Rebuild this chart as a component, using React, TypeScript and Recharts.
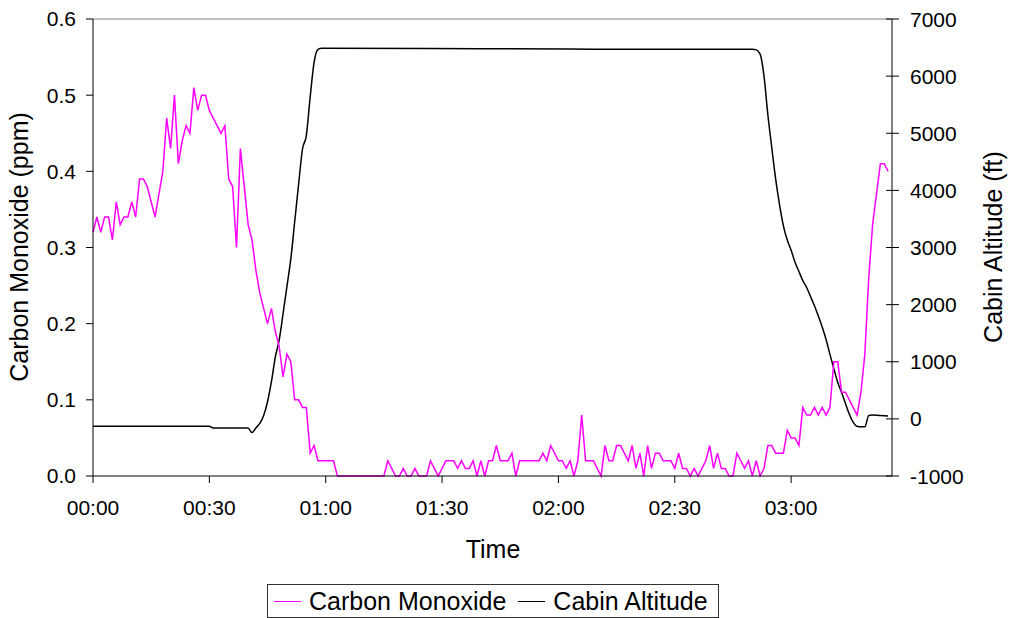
import React from "react";
import { LineChart, Line, XAxis, YAxis, ReferenceLine } from "recharts";

// carbon monoxide, one reading per minute from 00:00 (ppm)
const coPpm = [
  0.32, 0.34, 0.32, 0.34, 0.34, 0.31, 0.36, 0.33, 0.34, 0.34,
  0.36, 0.34, 0.39, 0.39, 0.38, 0.36, 0.34, 0.37, 0.40, 0.47,
  0.43, 0.50, 0.41, 0.44, 0.46, 0.45, 0.51, 0.48, 0.50, 0.50,
  0.48, 0.47, 0.46, 0.45, 0.46, 0.39, 0.38, 0.30, 0.43, 0.38,
  0.33, 0.31, 0.27, 0.24, 0.22, 0.20, 0.22, 0.19, 0.17, 0.13,
  0.16, 0.15, 0.10, 0.10, 0.09, 0.09, 0.03, 0.04, 0.02, 0.02,
  0.02, 0.02, 0.02, 0, 0, 0, 0, 0, 0, 0,
  0, 0, 0, 0, 0, 0, 0.02, 0.01, 0, 0,
  0.01, 0, 0, 0.01, 0, 0, 0, 0.02, 0.01, 0,
  0.01, 0.02, 0.02, 0.02, 0.01, 0.02, 0.01, 0.01, 0.02, 0,
  0.02, 0, 0.02, 0.02, 0.04, 0.02, 0.02, 0.02, 0.03, 0,
  0.02, 0.02, 0.02, 0.02, 0.02, 0.02, 0.03, 0.02, 0.04, 0.03,
  0.02, 0.02, 0.01, 0.02, 0, 0.02, 0.08, 0.02, 0.02, 0.02,
  0.01, 0, 0.04, 0.02, 0.02, 0.04, 0.04, 0.03, 0.02, 0.04,
  0.01, 0.03, 0, 0.04, 0.01, 0.03, 0.03, 0.02, 0.02, 0.02,
  0.01, 0.03, 0.01, 0.01, 0, 0.01, 0, 0.01, 0.02, 0.04,
  0.01, 0.03, 0.01, 0.01, 0, 0, 0.03, 0.02, 0.01, 0.02,
  0, 0.02, 0, 0.01, 0.04, 0.04, 0.03, 0.03, 0.03, 0.06,
  0.05, 0.05, 0.04, 0.09, 0.08, 0.08, 0.09, 0.08, 0.09, 0.08,
  0.09, 0.15, 0.15, 0.11, 0.11, 0.10, 0.09, 0.08, 0.11, 0.16,
  0.26, 0.33, 0.37, 0.41, 0.41, 0.40,
];

// cabin altitude read at the minutes where the curve bends (ft)
const altMinutes = [
  0, 30, 31, 40, 41, 42, 43, 44, 45, 46, 47, 48, 49, 50, 51, 52, 53, 54, 55, 56,
  57, 58, 59, 100, 140, 170, 171, 172, 173, 174, 175, 176, 177, 178, 179, 180,
  181, 182, 183, 184, 185, 186, 187, 188, 189, 190, 191, 192, 193, 194, 195,
  196, 197, 198, 199, 200, 201, 203, 205,
];
const altFeet = [
  -130, -130, -160, -160, -240, -160, -80, 60, 300, 650, 1080, 1380, 1840, 2320,
  2800, 3450, 4100, 4720, 4960, 5640, 6240, 6470, 6490, 6480, 6470, 6470, 6460,
  6385, 6000, 5320, 4750, 4200, 3750, 3380, 3130, 2950, 2740, 2580, 2420, 2300,
  2140, 1980, 1800, 1610, 1390, 1130, 880, 640, 460, 270, 80, -60, -130, -140,
  -140, 60, 70, 60, 50,
];

const timeTicks = [0, 30, 60, 90, 120, 150, 180];
const coTicks = [0, 0.1, 0.2, 0.3, 0.4, 0.5, 0.6];
const altTicks = [-1000, 0, 1000, 2000, 3000, 4000, 5000, 6000, 7000];

const seriesNames = ["Carbon Monoxide", "Cabin Altitude"];
const seriesColors = ["#FF00FF", "#000000"];

const FONT = '"Liberation Sans", Arial, sans-serif';

const rows = coPpm.map((co, t) => {
  const k = altMinutes.indexOf(t);
  return { t, co, alt: k >= 0 ? altFeet[k] : null };
});

const fmtTime = (m: number) => {
  const h = Math.floor(m / 60);
  const mm = m % 60;
  return `${String(h).padStart(2, "0")}:${String(mm).padStart(2, "0")}`;
};

const RightTick = (props: any) => {
  const { x, y, payload } = props;
  const axisX = x - 18;
  return (
    <g>
      <line x1={axisX - 6} x2={axisX + 7} y1={y} y2={y} stroke="#000" />
      <text x={x} y={y} dy="0.36em" textAnchor="start" fontSize={21} fontFamily={FONT} fill="#000">
        {payload.value}
      </text>
    </g>
  );
};

export default function App() {
  return (
    <div style={{ position: "absolute", left: 0, top: 0, width: 1015, height: 618, background: "#fff", overflow: "hidden" }}>
      <LineChart
        width={1015}
        height={618}
        data={rows}
        margin={{ top: 19, right: 0, bottom: 0, left: 0 }}
      >
        <XAxis
          dataKey="t"
          type="number"
          domain={[0, 206]}
          ticks={timeTicks}
          tickFormatter={fmtTime}
          height={142}
          stroke="#000"
          tickSize={7}
          tickMargin={17}
          tick={{ fontSize: 21, fontFamily: FONT, fill: "#000" }}
          label={{
            content: () => (
              <text x={493} y={549} dy="0.36em" textAnchor="middle" fontSize={25} fontFamily={FONT} fill="#000">
                Time
              </text>
            ),
          }}
        />
        <YAxis
          yAxisId="left"
          domain={[0, 0.6]}
          ticks={coTicks}
          tickFormatter={(v: number) => v.toFixed(1)}
          width={93}
          stroke="#000"
          tickSize={7}
          tickMargin={10}
          tick={{ fontSize: 21, fontFamily: FONT, fill: "#000" }}
          label={{
            content: () => (
              <text x={19} y={247} dy="0.36em" transform="rotate(-90 19 247)" textAnchor="middle" fontSize={25} fontFamily={FONT} fill="#000">
                Carbon Monoxide (ppm)
              </text>
            ),
          }}
        />
        <YAxis
          yAxisId="right"
          orientation="right"
          domain={[-1000, 7000]}
          ticks={altTicks}
          width={123}
          stroke="#000"
          tickSize={7}
          tickMargin={11}
          tickLine={false}
          tick={<RightTick />}
          label={{
            content: () => (
              <text x={993} y={247} dy="0.36em" transform="rotate(-90 993 247)" textAnchor="middle" fontSize={25} fontFamily={FONT} fill="#000">
                Cabin Altitude (ft)
              </text>
            ),
          }}
        />
        <ReferenceLine yAxisId="left" y={0.6} stroke="#808080" />
        <Line
          yAxisId="right"
          dataKey="alt"
          type="monotone"
          stroke={seriesColors[1]}
          strokeWidth={1.5}
          dot={false}
          connectNulls
          isAnimationActive={false}
        />
        <Line
          yAxisId="left"
          dataKey="co"
          type="linear"
          stroke={seriesColors[0]}
          strokeWidth={1.5}
          dot={false}
          isAnimationActive={false}
        />
      </LineChart>
      <div
        style={{
          position: "absolute",
          left: 267,
          top: 584,
          width: 452,
          height: 34,
          boxSizing: "border-box",
          border: "1px solid #333",
          display: "flex",
          alignItems: "center",
          paddingLeft: 6,
          fontFamily: FONT,
          fontSize: 25,
          lineHeight: "25px",
          color: "#000",
          whiteSpace: "nowrap",
        }}
      >
        {seriesNames.map((name, i) => (
          <div key={name} style={{ display: "flex", alignItems: "center", marginRight: 12 }}>
            <div style={{ width: 27, height: 0, borderTop: `1.5px solid ${seriesColors[i]}`, marginRight: 8 }} />
            <span>{name}</span>
          </div>
        ))}
      </div>
    </div>
  );
}
